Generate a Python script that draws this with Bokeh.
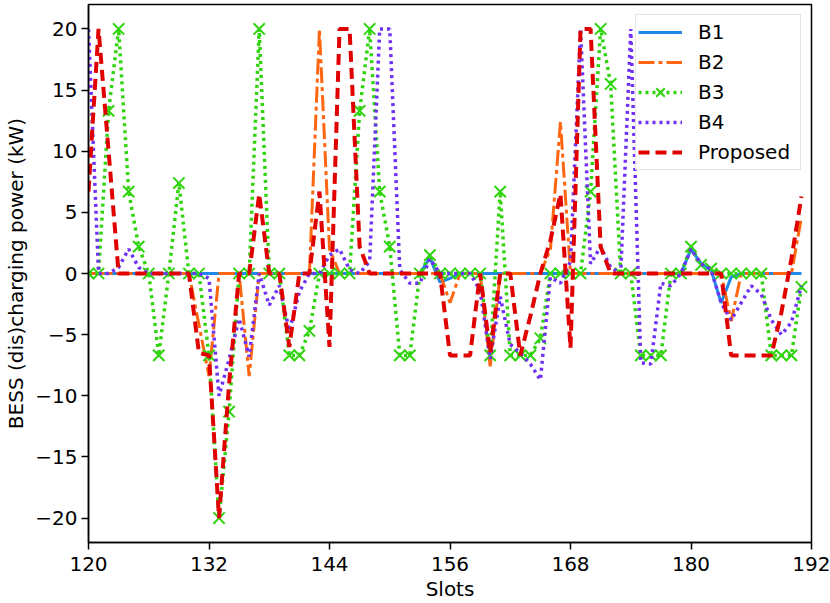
from bokeh.plotting import figure
from bokeh.models import (ColumnDataSource, FixedTicker, CustomJSTickFormatter,
                          Legend, LegendItem, Range1d)
from bokeh.embed import file_html
from bokeh.resources import INLINE

slots = list(range(120, 192))

b1 = [0, 0, 0, 0, 0, 0, 0, 0, 0, 0, 0, 0,
      0, 0, 0, 0, 0, 0, 0, 0, 0, 0, 0, 0,
      0, 0, 0, 0, 0, 0, 0, 0, 0, 0, 1.3, -0.7,
      -0.4, 0, 0, 0, 0, 0, 0, 0, 0, 0, 0, 0,
      0, 0, 0, 0, 0, 0, 0, 0, 0, 0, 0, 0,
      2.0, 0.8, 0.3, -2.4, -0.3, 0, 0, 0, 0, 0, 0, 0]

b2 = [0, 0, 0, 0, 0, 0, 0, 0, 0, 0, 0, -4.2,
      -8.4, 0, 0, 0, -8.4, 0, 0, 0, 0, 0, 0, 20,
      2.0, 0, 0, 0, 0, 0, 0, 0, 0, 0, 0, 0,
      -2.4, 0, 0, 0, -7.6, 0, 0, 0, 0, 0, 2.0, 12.4,
      0, 0, 0, 0, 0, 0, 0, 0, 0, 0, 0, 0,
      0, 0, 0, 0, -3.9, 0, 0, 0, 0, 0, 0, 4.6]

b3 = [0, 0, 13.3, 20, 6.7, 2.2, 0, -6.7, 0, 7.4, 0, 0,
      -6.7, -20, -11.3, 0, 0, 20, 0, 0, -6.7, -6.7, -4.7, 0,
      0, 0, 0, 13.3, 20, 6.7, 2.2, -6.7, -6.7, 0, 1.5, 0,
      0, 0, 0, 0, -6.7, 6.7, -6.7, -6.7, -6.7, -5.3, 0, 0,
      0, 0, 6.7, 20, 15.5, 0, 0, -6.7, -6.7, -6.7, 0, 0,
      2.2, 0.7, 0.4, 0, 0, 0, 0, 0, -6.7, -6.7, -6.7, -1.1]

b4 = [20, 0, 0, 0.5, 2.0, 0.5, 0, 0, 0, 0, 0, 0,
      -0.4, -10, -7, -3.7, -6.8, 0, -2.6, -1.0, -4.7, -1.5, 0, 0,
      1.5, 2.0, 0.3, 0, 1.0, 20, 20, 0.3, -0.8, -0.8, 1.2, 0,
      0, 0, 0, -1.4, -7.0, -1.9, -5.8, -6.5, -7.4, -8.7, -0.3, -0.8,
      1.0, 20, 0.8, 2.2, 0.5, 0, 20, -7.3, -7.4, -0.8, -1.0, 0,
      2.0, 0.8, 0.3, -2.4, -3.8, -2.4, -1.0, -1.7, -3.8, -5.0, -4.0, -1.0]

proposed = [6.7, 20, 10, 0, 0, 0, 0, 0, 0, 0, 0, -6.5,
            -6.7, -20, -9, 0, 0, 6.5, 0, 0, -6, 0, 0, 6.7,
            -6, 20, 20, 2.2, 0, 0, 0, 0, 0, 0, 0, 0,
            -6.7, -6.7, -6.7, 0, -6.5, 0, 0, -6.7, -3.5, 0, 2.7, 6.5,
            -6.1, 20, 20, 2.2, 0, 0, 0, 0, 0, 0, 0, 0,
            0, 0, 0, 0, -6.7, -6.7, -6.7, -6.7, -6.7, -3.2, 1.2, 6.3]

x_ticks = [120, 132, 144, 156, 168, 180, 192]
y_ticks = [-20, -15, -10, -5, 0, 5, 10, 15, 20]
labels = ["B1", "B2", "B3", "B4", "Proposed"]

src = ColumnDataSource(dict(x=slots, b1=b1, b2=b2, b3=b3, b4=b4, pr=proposed))

FONT = "DejaVu Sans"

p = figure(width=830, height=603,
           x_range=Range1d(120, 192), y_range=Range1d(-22, 22),
           output_backend="svg", toolbar_location=None,
           min_border_left=88, min_border_right=19,
           min_border_top=4, min_border_bottom=60)

p.xgrid.visible = False
p.ygrid.visible = False
p.outline_line_color = "black"
p.outline_line_width = 1.5
p.outline_line_alpha = 1.0

for ax in (p.xaxis[0], p.yaxis[0]):
    ax.axis_line_color = "black"
    ax.axis_line_width = 1.5
    ax.major_tick_line_color = "black"
    ax.major_tick_line_width = 1.5
    ax.major_tick_in = 0
    ax.major_tick_out = 7
    ax.minor_tick_line_color = None
    ax.major_label_text_font = FONT
    ax.major_label_text_font_size = "20px"
    ax.major_label_text_color = "black"
    ax.axis_label_text_font = FONT
    ax.axis_label_text_font_size = "20px"
    ax.axis_label_text_font_style = "normal"
    ax.axis_label_text_color = "black"

p.xaxis.major_label_standoff = 7
p.yaxis.major_label_standoff = 4
p.xaxis.ticker = FixedTicker(ticks=x_ticks)
p.yaxis.ticker = FixedTicker(ticks=y_ticks)
p.yaxis.formatter = CustomJSTickFormatter(
    code="return (tick < 0 ? '\u2212' : '') + Math.abs(tick).toString();")
p.xaxis.axis_label = "Slots"
p.yaxis.axis_label = "BESS (dis)charging power (kW)"
p.xaxis.axis_label_standoff = 3
p.yaxis.axis_label_standoff = 4

C_B1 = "#1f88e8"
C_B2 = "#ff6611"
C_B3 = "#2fd40e"
C_B4 = "#7030f5"
C_PR = "#e00000"

r1 = p.line("x", "b1", source=src, line_color=C_B1, line_width=3)
r2 = p.line("x", "b2", source=src, line_color=C_B2, line_width=3,
            line_dash="16 4 4 4")
r3 = p.line("x", "b3", source=src, line_color=C_B3, line_width=3.5,
            line_dash="3 4")
r3m = p.scatter("x", "b3", source=src, marker="x", size=16,
                line_color=C_B3, line_width=2)
r4 = p.line("x", "b4", source=src, line_color=C_B4, line_width=3.5,
            line_dash="3 4")
r5 = p.line("x", "pr", source=src, line_color=C_PR, line_width=4,
            line_dash="11 6")

legend = Legend(items=[
    LegendItem(label=labels[0], renderers=[r1]),
    LegendItem(label=labels[1], renderers=[r2]),
    LegendItem(label=labels[2], renderers=[r3, r3m]),
    LegendItem(label=labels[3], renderers=[r4]),
    LegendItem(label=labels[4], renderers=[r5]),
])
legend.location = "top_right"
legend.margin = 10
legend.padding = 2
legend.spacing = 0
legend.glyph_width = 44
legend.glyph_height = 30
legend.label_height = 30
legend.label_width = 100
legend.label_standoff = 16
legend.label_text_font = FONT
legend.label_text_font_size = "20px"
legend.label_text_color = "black"
legend.border_line_color = "#cccccc"
legend.border_line_width = 1
legend.background_fill_color = "white"
legend.background_fill_alpha = 0.8
p.add_layout(legend)

open("out.html", "w").write(file_html(p, INLINE))
